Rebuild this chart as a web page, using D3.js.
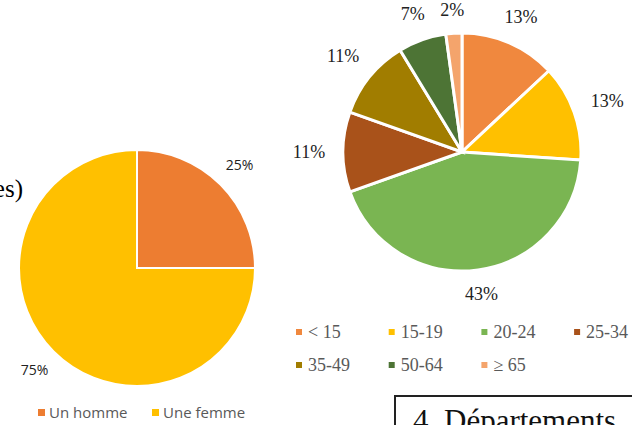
<!DOCTYPE html>
<html>
<head>
    <meta charset="utf-8">
    <title>Pies</title>
    <script src="https://d3js.org/d3.v7.min.js"></script>
    <style>
        body { margin: 0; background: #fff; overflow: hidden; }
    </style>
</head>
<body>
<script>
    var w = 632, h = 425;

    // left pie: sexe
    var sexLabels = ["Un homme", "Une femme"];
    var sexValues = [25, 75];
    var sexColors = ["#ED7D31", "#FFC000"];

    // right pie: age groups (counts)
    var ageLabels = ["< 15", "15-19", "20-24", "25-34", "35-49", "50-64", "\u2265 65"];
    var ageValues = [6, 6, 20, 5, 5, 3, 1];
    var ageColors = ["#F0883E", "#FFC000", "#7AB552", "#A9521A", "#A17D00", "#4D7435", "#F4A46C"];

    var svg = d3.select("body").append("svg").attr("width", w).attr("height", h);

    var pie = d3.pie().sort(null).value(function (d) { return d; });

    // ---- left pie
    var g1 = svg.append("g").attr("transform", "translate(137,268)");
    var r1 = 118;
    var arc1 = d3.arc().innerRadius(0).outerRadius(r1);
    var sexArcs = pie(sexValues);
    var sexTotal = d3.sum(sexValues);

    g1.selectAll("path")
        .data(sexArcs)
        .enter()
        .append("path")
        .attr("d", arc1)
        .attr("fill", function (d, i) { return sexColors[i]; })
        .attr("stroke", "#fff")
        .attr("stroke-width", 2);

    var lab1 = d3.arc().innerRadius(r1 + 27).outerRadius(r1 + 27);
    g1.selectAll("text.lab")
        .data(sexArcs)
        .enter()
        .append("text")
        .attr("class", "lab")
        .attr("transform", function (d) {
            var c = lab1.centroid(d);
            return "translate(" + c[0] + "," + c[1] + ")";
        })
        .attr("text-anchor", "middle")
        .attr("dy", "0.35em")
        .attr("font-family", "'Open Sans', sans-serif")
        .attr("font-size", 14)
        .attr("fill", "#222")
        .text(function (d) { return Math.round(d.value / sexTotal * 100) + "%"; });

    var leg1 = svg.append("g").attr("transform", "translate(38,413)");
    var leg1Item = leg1.selectAll("g")
        .data(sexLabels)
        .enter()
        .append("g")
        .attr("transform", function (d, i) { return "translate(" + (i * 114) + ",0)"; });
    leg1Item.append("rect")
        .attr("x", 0).attr("y", -4).attr("width", 7).attr("height", 7)
        .attr("fill", function (d, i) { return sexColors[i]; });
    leg1Item.append("text")
        .attr("x", 11).attr("y", 0).attr("dy", "0.35em")
        .attr("font-family", "'Open Sans', sans-serif")
        .attr("font-size", 15)
        .attr("fill", "#595959")
        .text(function (d) { return d; });

    // cut-off title text on the left edge
    svg.append("text")
        .attr("x", 23).attr("y", 197)
        .attr("text-anchor", "end")
        .attr("font-family", "'Liberation Serif', serif")
        .attr("font-size", 25)
        .attr("fill", "#000")
        .text("(femmes)");

    // ---- right pie
    var cx2 = 462, cy2 = 152, r2 = 119;
    var g2 = svg.append("g").attr("transform", "translate(" + cx2 + "," + cy2 + ")");
    var arc2 = d3.arc().innerRadius(0).outerRadius(r2);
    var ageArcs = pie(ageValues);
    var ageTotal = d3.sum(ageValues);

    g2.selectAll("path")
        .data(ageArcs)
        .enter()
        .append("path")
        .attr("d", arc2)
        .attr("fill", function (d, i) { return ageColors[i]; })
        .attr("stroke", "#fff")
        .attr("stroke-width", 3);

    // outside-end labels, pushed out by half the label box
    g2.selectAll("text.lab")
        .data(ageArcs)
        .enter()
        .append("text")
        .attr("class", "lab")
        .attr("transform", function (d) {
            var a = (d.startAngle + d.endAngle) / 2;
            var rr = r2 + 15 + Math.abs(Math.sin(a)) * 19 + Math.abs(Math.cos(a)) * 7;
            return "translate(" + (Math.sin(a) * rr) + "," + (-Math.cos(a) * rr) + ")";
        })
        .attr("text-anchor", "middle")
        .attr("dy", "0.35em")
        .attr("font-family", "'Liberation Serif', serif")
        .attr("font-size", 18)
        .attr("fill", "#222")
        .text(function (d) { return Math.round(d.value / ageTotal * 100) + "%"; });

    var leg2 = svg.append("g").attr("transform", "translate(296,332)");
    var leg2Item = leg2.selectAll("g")
        .data(ageLabels)
        .enter()
        .append("g")
        .attr("transform", function (d, i) {
            return "translate(" + ((i % 4) * 92.7) + "," + (Math.floor(i / 4) * 33) + ")";
        });
    leg2Item.append("rect")
        .attr("x", 0).attr("y", -3).attr("width", 6).attr("height", 6)
        .attr("fill", function (d, i) { return ageColors[i]; });
    leg2Item.append("text")
        .attr("x", 12).attr("y", 0).attr("dy", "0.35em")
        .attr("font-family", "'Liberation Serif', serif")
        .attr("font-size", 18)
        .attr("fill", "#595959")
        .text(function (d) { return d; });

    // boxed heading at the bottom right
    svg.append("rect")
        .attr("x", 395).attr("y", 396)
        .attr("width", 260).attr("height", 60)
        .attr("fill", "none")
        .attr("stroke", "#222")
        .attr("stroke-width", 2);
    svg.append("text")
        .attr("x", 413).attr("y", 431)
        .attr("font-family", "'Liberation Serif', serif")
        .attr("font-size", 31)
        .attr("fill", "#111")
        .text("4. Départements");
</script>
</body>
</html>
